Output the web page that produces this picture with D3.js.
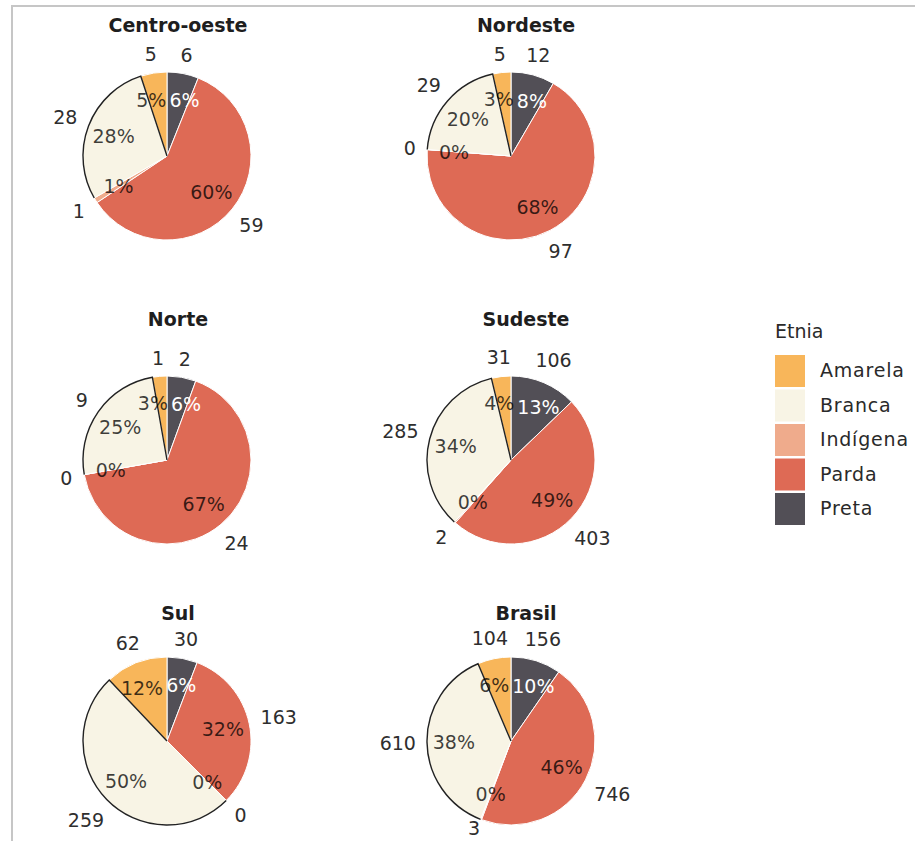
<!DOCTYPE html>
<html>
<head>
<meta charset="utf-8">
<script src="https://cdn.jsdelivr.net/npm/d3@7"></script>
<style>
  body { margin: 0; background: #fff; }
  svg { display: block; }
  text { font-family: "DejaVu Sans", sans-serif; }
</style>
</head>
<body>
<svg id="chart" width="915" height="841"></svg>
<script>
// Respondents by region and ethnicity
const regions = ["Centro-oeste", "Nordeste", "Norte", "Sudeste", "Sul", "Brasil"];
const ethnicities = ["Amarela", "Branca", "Indígena", "Parda", "Preta"];
const amarela  = [5, 5, 1, 31, 62, 104];
const branca   = [28, 29, 9, 285, 259, 610];
const indigena = [1, 0, 0, 2, 0, 3];
const parda    = [59, 97, 24, 403, 163, 746];
const preta    = [6, 12, 2, 106, 30, 156];
const palette  = ["#F8B65A", "#F8F4E5", "#EFAB8C", "#DE6A55", "#524F56"];

const series = { "Amarela": amarela, "Branca": branca, "Indígena": indigena, "Parda": parda, "Preta": preta };
// slices run clockwise from 12 o'clock in this order
const sliceOrder = ["Preta", "Parda", "Indígena", "Branca", "Amarela"];
const color = d3.scaleOrdinal(ethnicities, palette);

const W = 915, H = 841;
const svg = d3.select("#chart");

// panel frame
svg.append("line").attr("x1", 11).attr("x2", W).attr("y1", 6).attr("y2", 6)
  .attr("stroke", "#c6c6c6").attr("stroke-width", 2);
svg.append("line").attr("x1", 12).attr("x2", 12).attr("y1", 5).attr("y2", H)
  .attr("stroke", "#c6c6c6").attr("stroke-width", 2);

const R = 84;
const pieX = [167, 511], pieY = [156, 460, 741];
const titleX = [178, 526], titleY = [32, 326, 620];
const FS = 19;

const pie = d3.pie().sort(null).value(d => d.value);
const arc = d3.arc().innerRadius(0).outerRadius(R);

// simple label repulsion: keep boxes apart, pulled toward their anchors,
// and kept inside the drawing area
function repel(items, cx, cy) {
  for (let it = 0; it < 300; it++) {
    items.forEach(d => { d.x += (d.ax - d.x) * 0.04; d.y += (d.ay - d.y) * 0.04; });
    for (let i = 0; i < items.length; i++) {
      for (let j = i + 1; j < items.length; j++) {
        const a = items[i], b = items[j];
        const ws = (a.w + b.w) / 2 + 3, hs = (a.h + b.h) / 2 + 2;
        const dx = b.x - a.x, dy = b.y - a.y;
        const ox = ws - Math.abs(dx), oy = hs - Math.abs(dy);
        if (ox > 0 && oy > 0) {
          if (Math.abs(dx) / ws >= Math.abs(dy) / hs) {
            const s = dx === 0 ? (b.ax >= a.ax ? 1 : -1) : Math.sign(dx);
            a.x -= s * ox / 2; b.x += s * ox / 2;
          } else {
            const s = Math.sign(dy) || 1;
            a.y -= s * oy / 2; b.y += s * oy / 2;
          }
        }
      }
    }
    items.forEach(d => {
      const maxY = H - 6 - cy - d.h / 2;
      if (d.y > maxY) d.y = maxY;
    });
  }
}

regions.forEach((region, k) => {
  const col = k % 2, row = Math.floor(k / 2);
  const cx = pieX[col], cy = pieY[row];
  const data = sliceOrder.map(name => ({ name, value: series[name][k] }));
  const total = d3.sum(data, d => d.value);
  const arcs = pie(data);

  svg.append("text")
    .attr("x", titleX[col]).attr("y", titleY[row])
    .attr("text-anchor", "middle")
    .attr("font-size", 19).attr("font-weight", "bold").attr("fill", "#1e1e1e")
    .text(region);

  const g = svg.append("g").attr("transform", `translate(${cx},${cy})`);

  g.selectAll("path.slice").data(arcs).join("path")
    .attr("class", "slice")
    .attr("d", arc)
    .attr("fill", d => color(d.data.name))
    .attr("stroke", "#fff").attr("stroke-width", 1);

  // outline along the Branca slice: outer arc, then the edge shared with Amarela
  const b = arcs.find(d => d.data.name === "Branca");
  const p = d3.path();
  p.arc(0, 0, R, b.startAngle - Math.PI / 2, b.endAngle - Math.PI / 2, false);
  p.lineTo(0, 0);
  g.append("path").attr("d", p.toString())
    .attr("fill", "none").attr("stroke", "#222").attr("stroke-width", 1.4);

  // labels: share inside, count outside
  const items = [];
  arcs.forEach(d => {
    const mid = (d.startAngle + d.endAngle) / 2;
    const s = Math.sin(mid), c = -Math.cos(mid);
    const pct = Math.round(d.data.value / total * 100) + "%";
    const tIn = g.append("text").attr("text-anchor", "middle").attr("font-size", FS).text(pct);
    if (d.data.name === "Preta") tIn.attr("fill", "#fff");
    else tIn.attr("fill", "#000").attr("fill-opacity", 0.75);
    const wIn = tIn.node().getComputedTextLength();
    const rIn = R * 0.68;
    items.push({ node: tIn, w: wIn, h: 14, ax: s * rIn, ay: c * rIn, x: s * rIn, y: c * rIn });

    const tOut = g.append("text").attr("text-anchor", "middle").attr("font-size", FS)
      .attr("fill", "#2e2e2e").text(d.data.value);
    const wOut = tOut.node().getComputedTextLength();
    const rOut = R + 11 + Math.abs(s) * wOut / 2 + Math.abs(c) * 7;
    items.push({ node: tOut, w: wOut, h: 14, ax: s * rOut, ay: c * rOut, x: s * rOut, y: c * rOut });
  });
  repel(items, cx, cy);
  items.forEach(d => d.node.attr("x", d.x).attr("y", d.y + 7));
});

// legend
const legend = svg.append("g");
legend.append("text").attr("x", 775).attr("y", 338)
  .attr("font-size", 19).attr("fill", "#2a2a2a").text("Etnia");
ethnicities.forEach((name, i) => {
  const top = 355 + i * 34.5;
  legend.append("rect").attr("x", 775).attr("y", top).attr("width", 30).attr("height", 32)
    .attr("fill", color(name));
  legend.append("text").attr("x", 820).attr("y", top + 22)
    .attr("font-size", 19).attr("letter-spacing", 0.8).attr("fill", "#2a2a2a").text(name);
});
</script>
</body>
</html>
